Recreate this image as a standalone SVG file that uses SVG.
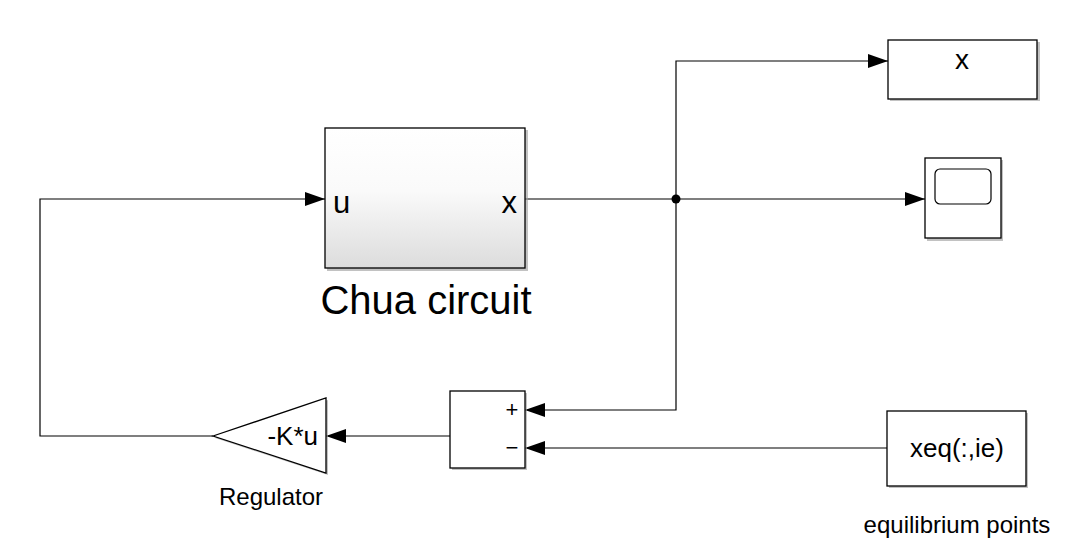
<svg xmlns="http://www.w3.org/2000/svg" width="1084" height="554" viewBox="0 0 1084 554">
<style>
.blk{fill:#fff;stroke:#000;stroke-width:1.3}
.sh{fill:#9a9a9a;opacity:0.6}
.ln{fill:none;stroke:#000;stroke-width:1.2}
text{font-family:"Liberation Sans",Arial,sans-serif;fill:#000}
</style>
<defs>
<linearGradient id="g" x1="0" y1="0" x2="0" y2="1">
<stop offset="0" stop-color="#ffffff"/>
<stop offset="0.45" stop-color="#fafafa"/>
<stop offset="1" stop-color="#dcdcdc"/>
</linearGradient>
<marker id="ar" markerWidth="20" markerHeight="14" refX="20" refY="7" orient="auto" markerUnits="userSpaceOnUse">
<path d="M0,0 L20,7 L0,14 Z" fill="#000"/>
</marker>
</defs>
<rect width="1084" height="554" fill="#fff"/>
<g id="connectors">
<path class="ln" d="M525,199 H925" marker-end="url(#ar)"/>
<path class="ln" d="M676,199 V61 H888" marker-end="url(#ar)"/>
<path class="ln" d="M676,199 V410 H525" marker-end="url(#ar)"/>
<path class="ln" d="M887,448 H525" marker-end="url(#ar)"/>
<path class="ln" d="M450,436 H326" marker-end="url(#ar)"/>
<path class="ln" d="M213,436 H40 V199 H325" marker-end="url(#ar)"/>
<circle cx="676" cy="199" r="4.5" fill="#000"/>
</g>
<g id="chua">
<rect class="sh" x="327" y="130" width="201" height="141"/>
<rect x="325" y="128" width="200" height="140" fill="url(#g)" stroke="#000" stroke-width="1.3"/>
<text x="333" y="213" font-size="31">u</text>
<text x="517" y="213" font-size="31" text-anchor="end">x</text>
<text x="426" y="314" font-size="40" text-anchor="middle">Chua circuit</text>
</g>
<g id="display">
<rect class="sh" x="890" y="42" width="150" height="59"/>
<rect class="blk" x="888" y="40" width="149" height="59"/>
<text x="962" y="69" font-size="28" text-anchor="middle">x</text>
</g>
<g id="scope">
<rect class="sh" x="927" y="160" width="76" height="81"/>
<rect class="blk" x="925" y="158" width="76" height="80"/>
<rect x="935" y="169" width="56" height="35" rx="5" fill="#fff" stroke="#000" stroke-width="1.2"/>
</g>
<g id="sum">
<rect class="sh" x="452" y="393" width="75" height="77"/>
<rect class="blk" x="450" y="391" width="75" height="77"/>
<text x="512" y="417" font-size="22" text-anchor="middle">+</text>
<text x="512" y="455" font-size="22" text-anchor="middle">−</text>
</g>
<g id="gain">
<path class="sh" d="M215,438 L328,400 L328,475 Z"/>
<path class="blk" d="M213,436 L326,398 L326,473 Z"/>
<text x="318" y="445" font-size="26" text-anchor="end">-K*u</text>
<text x="271" y="505" font-size="24" text-anchor="middle">Regulator</text>
</g>
<g id="xeq">
<rect class="sh" x="889" y="413" width="139" height="75"/>
<rect class="blk" x="887" y="411" width="139" height="75"/>
<text x="957" y="457" font-size="26" text-anchor="middle">xeq(:,ie)</text>
<text x="957" y="533" font-size="24" text-anchor="middle">equilibrium points</text>
</g>
</svg>
